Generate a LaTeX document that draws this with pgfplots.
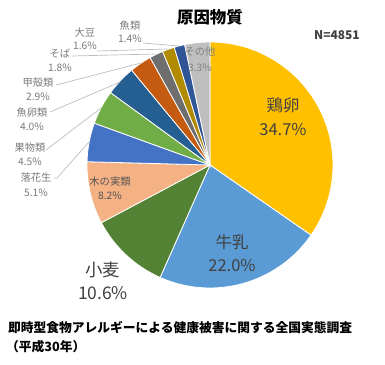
\documentclass[border=0pt]{standalone}
\usepackage{pgfplots}
\usepackage{pgfplotstable}
\pgfplotsset{compat=1.18}
\usepackage{fontspec}
\setmainfont{Noto Sans CJK JP}

\definecolor{c1}{HTML}{FFC000}
\definecolor{c2}{HTML}{5B9BD5}
\definecolor{c3}{HTML}{548235}
\definecolor{c4}{HTML}{F4B183}
\definecolor{c5}{HTML}{4472C4}
\definecolor{c6}{HTML}{70AD47}
\definecolor{c7}{HTML}{255E91}
\definecolor{c8}{HTML}{C55A11}
\definecolor{c9}{HTML}{6E6E6E}
\definecolor{c10}{HTML}{B08A00}
\definecolor{c11}{HTML}{2F5597}
\definecolor{c12}{HTML}{BFBFBF}
\definecolor{lbl}{HTML}{7A7A7A}
\definecolor{big}{HTML}{404040}
\definecolor{lead}{HTML}{BDBDBD}

\pgfplotstableread[col sep=comma]{
name,value,color
鶏卵,34.7,c1
牛乳,22.0,c2
小麦,10.6,c3
木の実類,8.2,c4
落花生,5.1,c5
果物類,4.5,c6
魚卵類,4.0,c7
甲殻類,2.9,c8
そば,1.8,c9
大豆,1.6,c10
魚類,1.4,c11
その他,3.3,c12
}\pietable

\tikzset{
  small/.style={font=\fontsize{10.3}{11}\selectfont, text=lbl, inner sep=0pt},
  large/.style={font=\fontsize{16.5}{17}\selectfont, text=big, inner sep=0pt},
}

\begin{document}
\begin{tikzpicture}
\begin{axis}[x=1bp,y=1bp,xmin=0,xmax=385,ymin=0,ymax=365,
  hide axis,clip=false,scale only axis]
\path (0,0) rectangle (385,365);
\pgfplotstablegetrowsof{\pietable}
\pgfmathtruncatemacro{\lastrow}{\pgfplotsretval-1}
\gdef\cum{90}
\pgfplotsforeachungrouped \i in {0,...,\lastrow}{%
  \pgfplotstablegetelem{\i}{value}\of\pietable
  \pgfmathsetmacro{\stopang}{\cum-\pgfplotsretval*360/100.1}%
  \pgfplotstablegetelem{\i}{color}\of\pietable
  \edef\temp{\noexpand\filldraw[fill=\pgfplotsretval,draw=white,line width=0.8pt] (210,200) -- ++(\cum:123bp) arc[start angle=\cum,end angle=\stopang,radius=123bp] -- cycle;}%
  \temp
  \xdef\cum{\stopang}%
}

% leader lines
\draw[lead, line width=0.7pt] (143,{365-43}) -- (179,{365-46});
\draw[lead, line width=0.7pt] (97,{365-51}) -- (168,{365-49});
\draw[lead, line width=0.7pt] (72,{365-56}) -- (156,{365-54});
\draw[lead, line width=0.7pt] (56,{365-85}) -- (141,{365-63});
\draw[lead, line width=0.7pt] (50,{365-112}) -- (120,{365-82});
\draw[lead, line width=0.7pt] (46,{365-150}) -- (101,{365-108});
\draw[lead, line width=0.7pt] (54,{365-178}) -- (57,{365-178}) -- (89,{365-142});

% small labels
\node[small] at (130,{365-26}) {魚類};
\node[small] at (130,{365-39}) {1.4\%};
\node[small] at (85,{365-33}) {大豆};
\node[small] at (85,{365-46}) {1.6\%};
\node[small] at (60,{365-54}) {そば};
\node[small] at (60,{365-68}) {1.8\%};
\node[small] at (38,{365-83}) {甲殻類};
\node[small] at (38,{365-97}) {2.9\%};
\node[small] at (32,{365-113}) {魚卵類};
\node[small] at (32,{365-127}) {4.0\%};
\node[small] at (30,{365-148}) {果物類};
\node[small] at (30,{365-162}) {4.5\%};
\node[small] at (36,{365-178}) {落花生};
\node[small] at (36,{365-193}) {5.1\%};
\node[small, text=big!90] at (110,{365-182}) {木の実類};
\node[small, text=big!90] at (110,{365-196}) {8.2\%};
\node[small, text=gray] at (200,{365-52}) {その他};
\node[small, text=gray] at (200,{365-68}) {3.3\%};

% large labels
\node[large] at (283,{365-105}) {鶏卵};
\node[large] at (283,{365-129}) {34.7\%};
\node[large] at (232,{365-242}) {牛乳};
\node[large] at (232,{365-265}) {22.0\%};
\node[large, font=\fontsize{17.5}{18}\selectfont] at (103,{365-270}) {小麦};
\node[large, font=\fontsize{17.5}{18}\selectfont] at (103,{365-293}) {10.6\%};

% title and notes
\node[font=\fontsize{16.5}{17}\selectfont\bfseries, inner sep=0pt] at (210,{365-17}) {原因物質};
\node[font=\fontsize{12}{13}\selectfont\bfseries, text=big, inner sep=0pt] at (337,{365-35}) {N=4851};
\node[font=\fontsize{12.8}{13}\selectfont\bfseries, anchor=west, inner sep=0pt] at (8,{365-328}) {即時型食物アレルギーによる健康被害に関する全国実態調査};
\node[font=\fontsize{12.8}{13}\selectfont\bfseries, anchor=west, inner sep=0pt] at (6,{365-347}) {（平成30年）};
\end{axis}
\end{tikzpicture}
\end{document}
